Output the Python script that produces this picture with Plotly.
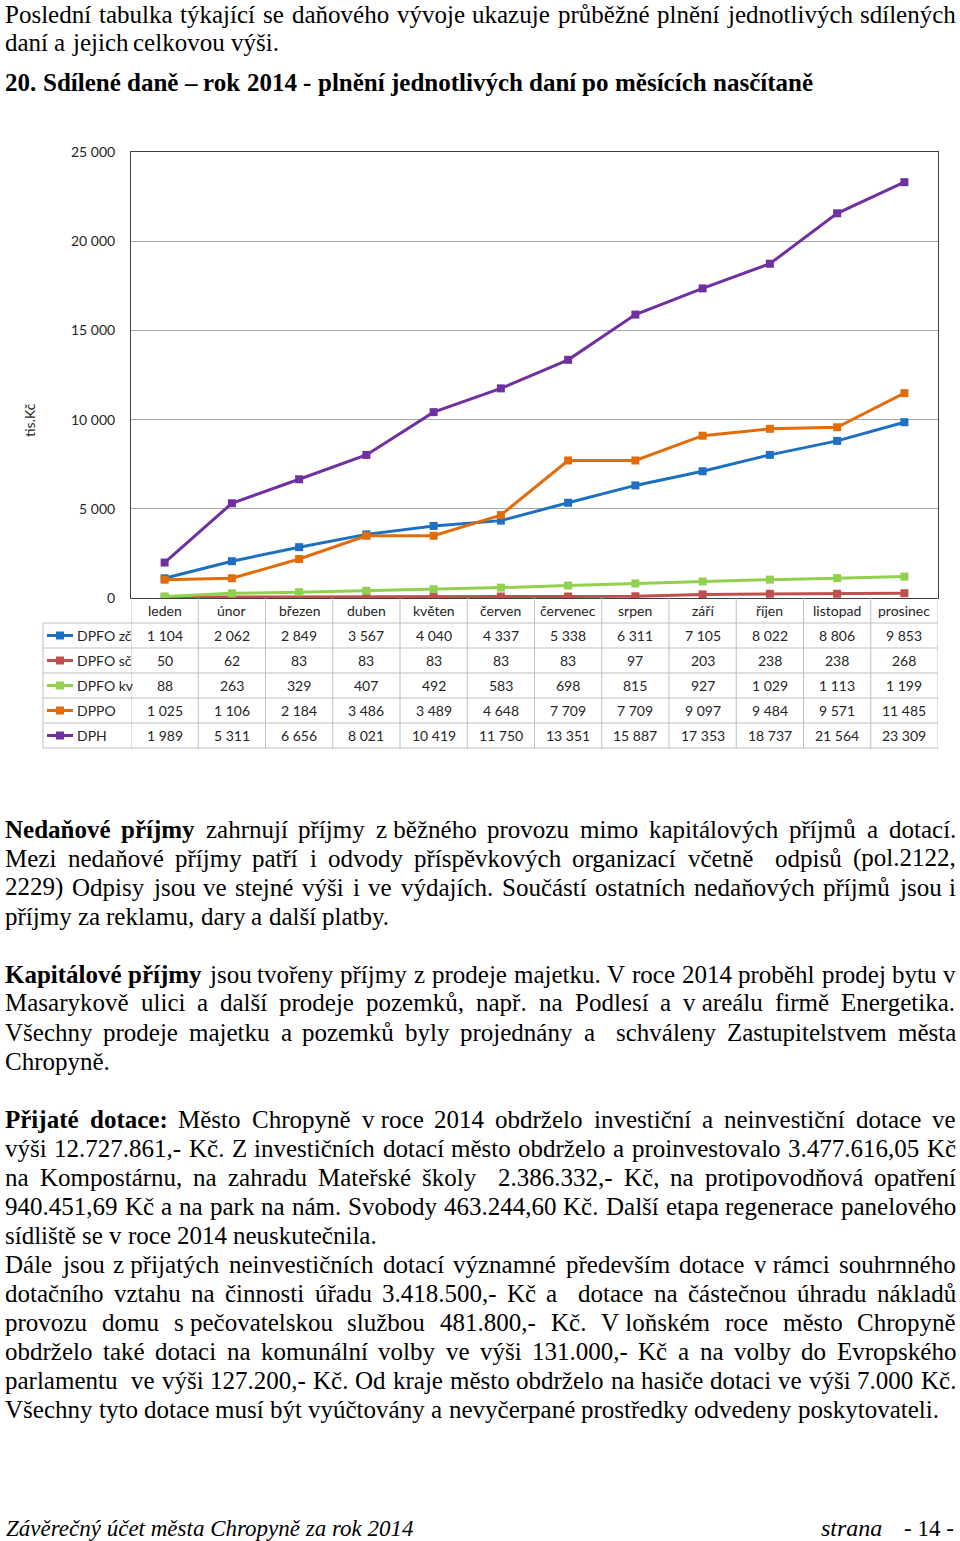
import unicodedata
import plotly.graph_objects as go

W, H = 960, 1541

# ---------------- data ----------------
months = ["leden", "únor", "březen", "duben", "květen", "červen",
          "červenec", "srpen", "září", "říjen", "listopad", "prosinec"]
series_names = ["DPFO zč", "DPFO sč", "DPFO kv", "DPPO", "DPH"]
dpfo_zc = [1104, 2062, 2849, 3567, 4040, 4337, 5338, 6311, 7105, 8022, 8806, 9853]
dpfo_sc = [50, 62, 83, 83, 83, 83, 83, 97, 203, 238, 238, 268]
dpfo_kv = [88, 263, 329, 407, 492, 583, 698, 815, 927, 1029, 1113, 1199]
dppo = [1025, 1106, 2184, 3486, 3489, 4648, 7709, 7709, 9097, 9484, 9571, 11485]
dph = [1989, 5311, 6656, 8021, 10419, 11750, 13351, 15887, 17353, 18737, 21564, 23309]
series_values = [dpfo_zc, dpfo_sc, dpfo_kv, dppo, dph]
series_colors = ["#1F6FC1", "#C0504D", "#92D050", "#E36C0A", "#7030A0"]
y_tick_vals = [0, 5000, 10000, 15000, 20000, 25000]
y_tick_text = ["0", "5 000", "10 000", "15 000", "20 000", "25 000"]
y_title = "tis.Kč"

para_intro = [
    "Poslední tabulka týkající se daňového vývoje ukazuje průběžné plnění jednotlivých sdílených",
    "daní a jejich celkovou výši.",
]
heading = "**20. Sdílené daně – rok 2014 - plnění jednotlivých daní po měsících nasčítaně**"
para_nedan = [
    "**Nedaňové příjmy** zahrnují příjmy z\u00a0běžného provozu mimo kapitálových příjmů a dotací.",
    "Mezi nedaňové příjmy patří i odvody příspěvkových organizací včetně  odpisů (pol.2122,",
    "2229) Odpisy jsou ve stejné výši i ve výdajích. Součástí ostatních nedaňových příjmů jsou i",
    "příjmy za reklamu, dary a další platby.",
]
para_kap = [
    "**Kapitálové příjmy** jsou tvořeny příjmy z prodeje majetku. V roce 2014 proběhl prodej bytu v",
    "Masarykově ulici a další prodeje pozemků, např. na Podlesí a v\u00a0areálu firmě Energetika.",
    "Všechny prodeje majetku a pozemků byly projednány a  schváleny Zastupitelstvem města",
    "Chropyně.",
]
para_dot1 = [
    "**Přijaté dotace:** Město Chropyně v\u00a0roce 2014 obdrželo investiční a neinvestiční dotace ve",
    "výši 12.727.861,- Kč. Z investičních dotací město obdrželo a proinvestovalo 3.477.616,05 Kč",
    "na Kompostárnu, na zahradu Mateřské školy  2.386.332,- Kč, na protipovodňová opatření",
    "940.451,69 Kč a na park na nám. Svobody 463.244,60 Kč. Další etapa regenerace panelového",
    "sídliště se v roce 2014 neuskutečnila.",
]
para_dot2 = [
    "Dále jsou z\u00a0přijatých neinvestičních dotací významné především dotace v\u00a0rámci souhrnného",
    "dotačního vztahu na činnosti úřadu 3.418.500,- Kč a  dotace na částečnou úhradu nákladů",
    "provozu domu s\u00a0pečovatelskou službou 481.800,- Kč. V\u00a0loňském roce město Chropyně",
    "obdrželo také dotaci na komunální volby ve výši 131.000,- Kč a na volby do Evropského",
    "parlamentu  ve výši 127.200,- Kč. Od kraje město obdrželo na hasiče dotaci ve výši 7.000 Kč.",
    "Všechny tyto dotace musí být vyúčtovány a nevyčerpané prostředky odvedeny poskytovateli.",
]
footer_left = "Závěrečný účet města Chropyně za rok 2014"
footer_strana = "strana"
footer_page = "- 14 -"

# ---------------- helpers ----------------
def px(x):
    return x / W


def py(y):
    return 1 - y / H


TR = dict(zip("abcdefghijklmnopqrstuvwxyz",
              [444, 500, 444, 500, 444, 333, 500, 500, 278, 278, 500, 278, 778,
               500, 500, 500, 500, 333, 389, 278, 500, 500, 722, 500, 500, 444]))
TR.update(dict(zip("ABCDEFGHIJKLMNOPQRSTUVWXYZ",
                   [722, 667, 667, 722, 611, 556, 722, 722, 333, 389, 722, 611, 889,
                    722, 722, 556, 722, 667, 556, 611, 722, 722, 944, 722, 722, 611])))
TB = dict(zip("abcdefghijklmnopqrstuvwxyz",
              [500, 556, 444, 556, 444, 333, 500, 556, 278, 333, 556, 278, 833,
               556, 500, 556, 556, 444, 389, 333, 556, 500, 722, 500, 500, 444]))
TB.update(dict(zip("ABCDEFGHIJKLMNOPQRSTUVWXYZ",
                   [722, 667, 722, 722, 667, 611, 778, 778, 389, 500, 778, 667, 944,
                    722, 778, 611, 778, 722, 556, 667, 722, 722, 1000, 722, 722, 667])))
for t in (TR, TB):
    for d in "0123456789":
        t[d] = 500
    t.update({" ": 250, "\u00a0": 250, ".": 250, ",": 250, "-": 333, "–": 500,
              "(": 333, ")": 333})
TR[":"] = 278
TB[":"] = 333


def char_w(ch, bold):
    t = TB if bold else TR
    if ch in t:
        return t[ch]
    base = unicodedata.normalize("NFD", ch)[0]
    return t.get(base, 500)


def word_w(word, bold, fs):
    return sum(char_w(c, bold) for c in word) / 1000.0 * fs


def tokenize(line):
    seq = []
    for k, part in enumerate(line.split("**")):
        for ch in part:
            seq.append((ch, k % 2 == 1))
    words, gaps = [], []
    cur, curb, sp = "", False, 0
    for ch, b in seq:
        if ch == " ":
            if cur:
                words.append((cur, curb))
                cur = ""
            sp += 1
        else:
            if not cur:
                if words:
                    gaps.append(sp)
                sp = 0
                curb = b
            cur += ch
    if cur:
        words.append((cur, curb))
    return words, gaps


annotations = []
FS = 25
X_L, X_R = 4, 955
SERIF = "Liberation Serif, Times New Roman, serif"


def place_line(line, yc, justify, fs=FS):
    words, gaps = tokenize(line)
    widths = [word_w(w, b, fs) for w, b in words]
    spacew = 0.25 * fs
    nsp = sum(gaps)
    if justify and nsp > 0:
        spacew = (X_R - X_L - sum(widths)) / nsp
    x = X_L
    for i, (w, b) in enumerate(words):
        annotations.append(dict(
            x=px(x), y=py(yc), xref="paper", yref="paper",
            xanchor="left", yanchor="middle", showarrow=False, borderpad=0,
            text=("<b>%s</b>" % w) if b else w,
            font=dict(family=SERIF, size=fs, color="#000000")))
        x += widths[i]
        if i < len(gaps):
            x += gaps[i] * spacew


def place_para(lines, y0, step=29):
    for i, ln in enumerate(lines):
        place_line(ln, y0 + i * step, justify=(i < len(lines) - 1))


place_para(para_intro, 14.5, step=28.5)
place_line(heading, 82, justify=False)
place_para(para_nedan, 829)
place_para(para_kap, 974)
place_para(para_dot1, 1119)
place_para(para_dot2, 1264)

annotations.append(dict(x=px(4), y=py(1528), xref="paper", yref="paper",
                        xanchor="left", yanchor="middle", showarrow=False,
                        text="<i>%s</i>" % footer_left,
                        font=dict(family=SERIF, size=23, color="#000000")))
annotations.append(dict(x=px(819), y=py(1528), xref="paper", yref="paper",
                        xanchor="left", yanchor="middle", showarrow=False,
                        text="<i>%s</i>" % footer_strana,
                        font=dict(family=SERIF, size=24, color="#000000")))
annotations.append(dict(x=px(956), y=py(1528), xref="paper", yref="paper",
                        xanchor="right", yanchor="middle", showarrow=False,
                        text=footer_page,
                        font=dict(family=SERIF, size=23, color="#000000")))

# ---------------- chart ----------------
PL, PR, PT, PB = 131, 938, 152, 598
ROW_H = 25
TAB_L = 43
SANS = "Lato, Carlito, Calibri, sans-serif"
TXT = "#262626"
GRID = "#BFBFBF"

fig = go.Figure()
for name, vals, col in zip(series_names, series_values, series_colors):
    fig.add_trace(go.Scatter(
        x=months, y=vals, name=name, mode="lines+markers",
        line=dict(color=col, width=3),
        marker=dict(symbol="square", size=8, color=col),
        showlegend=False, hoverinfo="skip"))

shapes = []
# table horizontal lines
for k in range(len(series_names) + 1):
    yy = PB + ROW_H * (k + 1)
    shapes.append(dict(type="line", xref="paper", yref="paper",
                       x0=px(TAB_L), x1=px(PR), y0=py(yy), y1=py(yy),
                       line=dict(color=GRID, width=1)))
# table vertical lines
for i in range(len(months) + 1):
    shapes.append(dict(type="line", xref="x", yref="paper",
                       x0=i - 0.5, x1=i - 0.5, y0=py(PB),
                       y1=py(PB + ROW_H * (len(series_names) + 1)),
                       line=dict(color=GRID, width=1)))
shapes.append(dict(type="line", xref="paper", yref="paper",
                   x0=px(TAB_L), x1=px(TAB_L), y0=py(PB + ROW_H),
                   y1=py(PB + ROW_H * (len(series_names) + 1)),
                   line=dict(color=GRID, width=1)))

# header labels
for m in months:
    annotations.append(dict(x=m, y=py(PB + ROW_H / 2), xref="x", yref="paper",
                            xanchor="center", yanchor="middle", showarrow=False,
                            text=m, font=dict(family=SANS, size=14, color=TXT)))

# rows
for k, (name, vals, col) in enumerate(zip(series_names, series_values, series_colors)):
    yc = PB + ROW_H * (k + 1) + ROW_H / 2
    # legend key
    shapes.append(dict(type="line", xref="paper", yref="paper",
                       x0=px(47), x1=px(73), y0=py(yc), y1=py(yc),
                       line=dict(color=col, width=3)))
    shapes.append(dict(type="rect", xref="paper", yref="paper",
                       x0=px(56), x1=px(64), y0=py(yc - 4), y1=py(yc + 4),
                       fillcolor=col, line=dict(width=0)))
    annotations.append(dict(x=px(75), y=py(yc), xref="paper", yref="paper",
                            xanchor="left", yanchor="middle", showarrow=False,
                            text=name, font=dict(family=SANS, size=14, color=TXT)))
    for m, v in zip(months, vals):
        annotations.append(dict(x=m, y=py(yc), xref="x", yref="paper",
                                xanchor="center", yanchor="middle", showarrow=False,
                                text=f"{v:,}".replace(",", " "),
                                font=dict(family=SANS, size=14, color=TXT)))

# y title
annotations.append(dict(x=px(30), y=py(420), xref="paper", yref="paper",
                        xanchor="center", yanchor="middle", showarrow=False,
                        textangle=-90, text=y_title,
                        font=dict(family=SANS, size=14, color=TXT)))

fig.update_layout(
    width=W, height=H,
    margin=dict(l=0, r=0, t=0, b=0, pad=0, autoexpand=False),
    paper_bgcolor="white", plot_bgcolor="white",
    xaxis=dict(domain=[px(PL), px(PR)], type="category", range=[-0.5, 11.5],
               showticklabels=False, showgrid=False, zeroline=False,
               showline=True, mirror=True, linecolor="#404040", linewidth=1,
               fixedrange=True),
    yaxis=dict(domain=[py(PB), py(PT)], range=[0, 25000],
               tickvals=y_tick_vals, ticktext=y_tick_text,
               tickfont=dict(family=SANS, size=14, color=TXT),
               showgrid=True, gridcolor="#A6A6A6", gridwidth=1, zeroline=False,
               showline=True, mirror=True, linecolor="#404040", linewidth=1,
               ticks="", ticklabelstandoff=12, fixedrange=True),
    shapes=shapes, annotations=annotations,
)

fig.write_html(
    "out.html",
    config={"displayModeBar": False, "staticPlot": True},
    post_script="document.body.style.margin='0';document.body.style.overflow='hidden';",
)
